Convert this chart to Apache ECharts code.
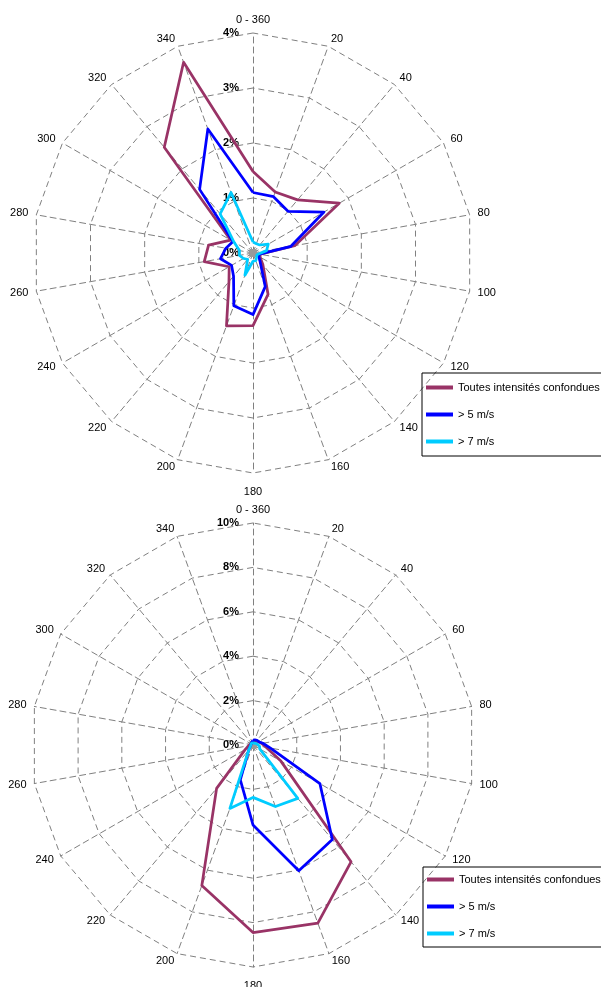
<!DOCTYPE html>
<html><head><meta charset="utf-8">
<script src="https://cdn.jsdelivr.net/npm/echarts@6/dist/echarts.min.js"></script>
<style>html,body{margin:0;padding:0;background:#fff}#c{width:601px;height:987px}</style>
</head><body><div id="c"></div>
<script>
// Directions (compass order, clockwise from north)
const directions = ['0 - 360','20','40','60','80','100','120','140','160','180','200','220','240','260','280','300','320','340'];
const seriesNames = ['Toutes intensités confondues', '> 5 m/s', '> 7 m/s'];
const seriesColors = ['#993366', '#0000ff', '#00ccff'];

// Top rose: ticks and values (%)
const topTicks = [0, 1, 2, 3, 4];
const topAll  = [1.48, 1.18, 1.26, 1.81, 0.77, 0.13, 0.15, 0.28, 0.80, 1.32, 1.41, 0.68, 0.50, 0.90, 0.82, 0.47, 2.51, 3.69];
const topGt5  = [1.10, 1.09, 0.99, 1.49, 0.70, 0.12, 0.12, 0.20, 0.65, 1.12, 1.02, 0.55, 0.45, 0.60, 0.50, 0.42, 1.51, 2.40];
const topGt7  = [0.20, 0.18, 0.19, 0.32, 0.25, 0.10, 0.08, 0.10, 0.15, 0.15, 0.43, 0.15, 0.20, 0.25, 0.25, 0.40, 0.93, 1.17];

// Bottom rose: ticks and values (%)
const botTicks = [0, 2, 4, 6, 8, 10];
const botAll  = [0.15, 0.15, 0.20, 0.30, 0.40, 0.60, 1.45, 6.87, 8.54, 8.45, 6.74, 2.55, 0.40, 0.20, 0.15, 0.10, 0.10, 0.10];
const botGt5  = [0.20, 0.25, 0.28, 0.30, 0.45, 0.80, 3.48, 5.56, 6.03, 3.60, 1.67, 0.30, 0.15, 0.10, 0.10, 0.10, 0.10, 0.15];
const botGt7  = [0.10, 0.10, 0.10, 0.15, 0.20, 0.30, 0.35, 3.14, 2.95, 2.36, 3.04, 0.30, 0.15, 0.10, 0.10, 0.10, 0.10, 0.10];

// Origin marker (0 % in every direction)
const origin = [0, 0, 0, 0, 0, 0, 0, 0, 0, 0, 0, 0, 0, 0, 0, 0, 0, 0];

const FONT = 'Liberation Sans, Arial, sans-serif';
// ECharts radar runs counter-clockwise; reorder so compass runs clockwise
const order = directions.map((d, k) => (directions.length - k) % directions.length);
const reorder = arr => order.map(i => arr[i]);

function makeRadar(center, radius, ticks) {
  const max = ticks[ticks.length - 1];
  return {
    center: center, radius: radius, startAngle: 90, shape: 'polygon',
    splitNumber: ticks.length - 1,
    indicator: order.map((i, k) => ({
      name: directions[i], min: 0, max: max,
      axisLabel: k === 0 ? {show: true, fontWeight: 'bold', fontSize: 11, color: '#000', fontFamily: FONT,
        margin: 14, formatter: v => v + '%'} : {show: false}
    })),
    axisName: {color: '#000', fontSize: 11, fontFamily: FONT, padding: [5, 0, 0, 0]},
    nameGap: 8,
    splitLine: {lineStyle: {color: '#808080', type: [6, 4], width: 1}},
    splitArea: {show: false},
    axisLine: {lineStyle: {color: '#808080', type: [6, 4], width: 1}},
    axisTick: {show: false},
    axisLabel: {show: false}
  };
}

function makeSeries(radarIndex, arrays) {
  return [{
    type: 'radar', radarIndex: radarIndex, symbol: 'circle', symbolSize: 8, silent: true, z: 2,
    data: [{name: 'origin', value: reorder(origin), lineStyle: {width: 0}, itemStyle: {color: '#9a9a9a'}}]
  }, {
    type: 'radar', radarIndex: radarIndex, symbol: 'none', silent: true, z: 3,
    data: arrays.map((a, j) => ({
      name: seriesNames[j], value: reorder(a),
      lineStyle: {color: seriesColors[j], width: 2.75},
      itemStyle: {color: seriesColors[j]}
    }))
  }];
}

function makeLegend(left, top, pad) {
  return {
    orient: 'vertical', left: left, top: top, icon: 'rect', itemWidth: 27, itemHeight: 4,
    itemGap: 16, padding: pad, borderColor: '#000', borderWidth: 1,
    selectedMode: false, data: seriesNames,
    textStyle: {fontSize: 11, color: '#000', fontFamily: FONT}
  };
}

const chart = echarts.init(document.getElementById('c'), null, {renderer: 'canvas'});
chart.setOption({
  animation: false,
  backgroundColor: '#fff',
  radar: [makeRadar([253, 253], 220, topTicks), makeRadar([253, 745], 222, botTicks)],
  legend: [makeLegend(422, 373, [9, 30, 9, 4]), makeLegend(423, 867, [7, 30, 8, 4])],
  series: [...makeSeries(0, [topAll, topGt5, topGt7]), ...makeSeries(1, [botAll, botGt5, botGt7])]
});
</script></body></html>
